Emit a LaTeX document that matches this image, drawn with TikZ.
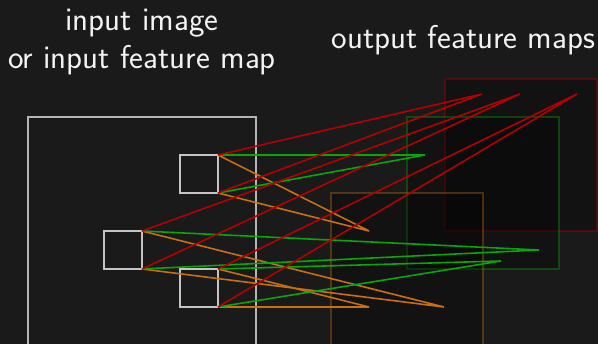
\documentclass[tikz,border=0pt]{standalone}
\definecolor{bg}{HTML}{1A1A1A}
\definecolor{lnred}{HTML}{B40000}
\definecolor{lngreen}{HTML}{0AA50A}
\definecolor{lnorange}{HTML}{C86E14}
\definecolor{sq}{HTML}{C4C4C4}
\definecolor{txt}{HTML}{F2F2F2}
\begin{document}
\begin{tikzpicture}[x=1pt,y=-1pt,
  title/.style={text=txt, font=\sffamily\fontsize{33}{39}\selectfont, anchor=base, inner sep=0pt},
  patch/.style={draw=sq, line width=1.3pt, minimum size=38pt, inner sep=0pt, outer sep=0pt},
  fmap/.style={minimum size=152pt, inner sep=0pt, outer sep=0pt, line width=1.6pt, fill=black, fill opacity=0.3, draw opacity=0.35},
  conn/.style={line width=1.6pt}]
\fill[bg] (0,0) rectangle (598,344);
\useasboundingbox (0,0) rectangle (598,344);
% titles
\node[title] (t1) at (142,30.7) {input image};
\node[title] (t2) at (142,69) {or input feature map};
\node[title] (t3) at (463.5,48.3) {output feature maps};
% output feature maps
\node[fmap, draw=lnred] (mr) at (521,155) {};
\node[fmap, draw=lngreen] (mg) at (483,193) {};
\node[fmap, draw=lnorange] (mo) at (407,269) {};
% input
\node[draw=sq!92!black, line width=1.3pt, minimum size=228pt, inner sep=0pt, outer sep=0pt] (in) at (142,231) {};
\node[patch] (ptop) at (199,174) {};
\node[patch] (pmid) at (123,250) {};
\node[patch] (pbot) at (199,288) {};
% targets
\coordinate (r1) at (482,94);
\coordinate (r2) at (520,94);
\coordinate (r3) at (577,94);
\coordinate (g1) at (425,155);
\coordinate (g2) at (539,250);
\coordinate (g3) at (501,261);
\coordinate (o1) at (369,231);
\coordinate (o2) at (444,307);
\coordinate (o3) at (369,307);
% connectors
\draw[conn, lnorange] (ptop.north east) -- (o1) (ptop.south east) -- (o1);
\draw[conn, lnorange] (pmid.north east) -- (o2) (pmid.south east) -- (o2);
\draw[conn, lnorange] (pbot.north east) -- (o3) (pbot.south east) -- (o3);
\draw[conn, lngreen] (ptop.north east) -- (g1) (ptop.south east) -- (g1);
\draw[conn, lngreen] (pmid.north east) -- (g2) (pmid.south east) -- (g2);
\draw[conn, lngreen] (pbot.north east) -- (g3) (pbot.south east) -- (g3);
\draw[conn, lnred] (ptop.north east) -- (r1) (ptop.south east) -- (r1);
\draw[conn, lnred] (pmid.north east) -- (r2) (pmid.south east) -- (r2);
\draw[conn, lnred] (pbot.north east) -- (r3) (pbot.south east) -- (r3);
\end{tikzpicture}
\end{document}
